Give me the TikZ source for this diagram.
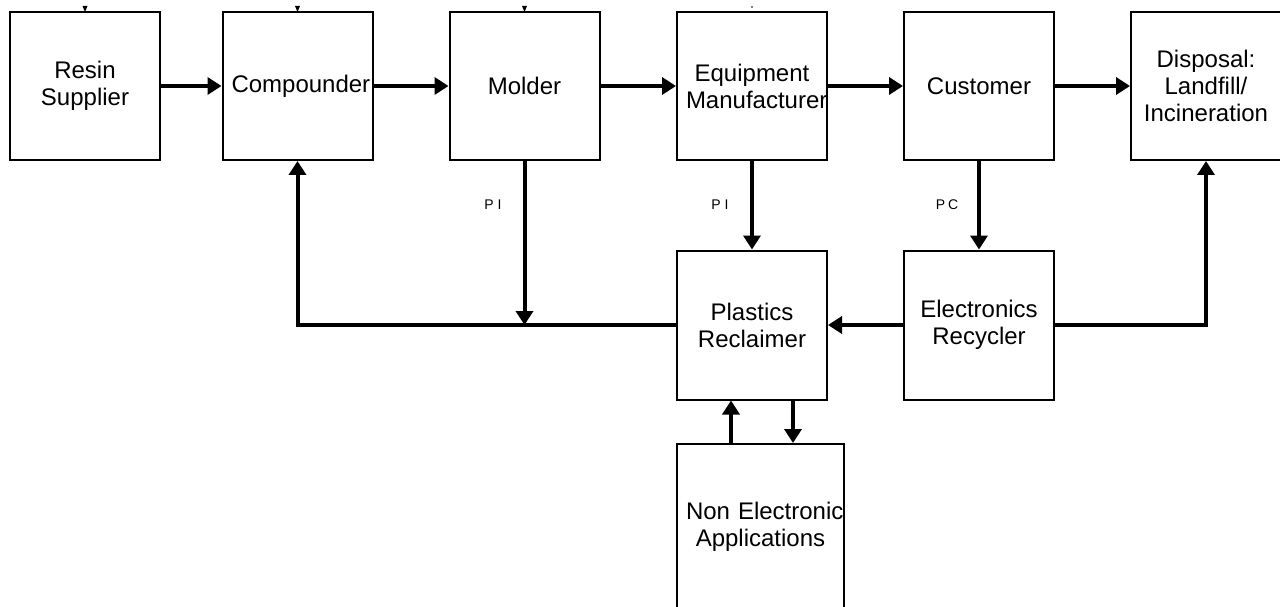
\documentclass[tikz,border=0pt]{standalone}
\usepackage{fontspec}
\setmainfont{Liberation Sans}
\usetikzlibrary{arrows.meta}
\begin{document}
\begin{tikzpicture}[x=1pt,y=-1pt,
  box/.style={draw,line width=2pt,minimum width=150pt,minimum height=148pt,
    text width=132pt,align=center,inner sep=0pt,
    font=\fontsize{24}{27}\selectfont},
  arr/.style={line width=4pt,-{Triangle[length=14pt,width=17pt]}},
  lab/.style={font=\fontsize{14}{16}\selectfont,inner sep=0pt},
  stub/.style={fill=black}]
\useasboundingbox (0,0) rectangle (1280,607);
\clip (0,0) rectangle (1280,607);
% top row
\node[box] (RS) at (85,86) {Resin\\Supplier};
\node[box] (CO) at (297.5,86) {Compounder};
\node[box] (MO) at (524.5,86) {Molder};
\node[box] (EM) at (752,86) {Equipment\\Manufacturer};
\node[box] (CU) at (979,86) {Customer};
\node[box] (DI) at (1206,86) {Disposal:\\Landfill/\\Incineration};
% second row
\node[box,minimum height=149pt] (PR) at (752,325) {Plastics\\Reclaimer};
\node[box,minimum height=149pt] (ER) at (979,325) {Electronics\\Recycler};
% bottom
\node[box,minimum width=167pt,minimum height=166pt,text width=149pt] (NE) at (760.5,527) {\mbox{Non Electronic}\\Applications};
% labels
\node[lab] (L1) at (493,205) {P\hspace{4pt}I};
\node[lab] (L2) at (720,205) {P\hspace{4pt}I};
\node[lab] (L3) at (947,205) {P\hspace{3pt}C};
% stubs of cut-off arrowheads at top
\fill[stub] (82.5,6) -- (87.5,6) -- (85,12) -- cycle;
\fill[stub] (295,6) -- (300,6) -- (297.5,12) -- cycle;
\fill[stub] (522,6) -- (527,6) -- (524.5,12) -- cycle;
\fill[gray] (751,6) rectangle (753,8);
% top row flow
\draw[arr] (RS.east) -- (CO.west);
\draw[arr] (CO.east) -- (MO.west);
\draw[arr] (MO.east) -- (EM.west);
\draw[arr] (EM.east) -- (CU.west);
\draw[arr] (CU.east) -- (DI.west);
% feedback
\draw[arr] (PR.west) -| (CO.south);
\draw[arr] (MO.south) -- (MO.south |- PR.west);
\draw[arr] (EM.south) -- (PR.north);
\draw[arr] (CU.south) -- (ER.north);
\draw[arr] (ER.west) -- (PR.east);
\draw[arr] (ER.east) -| (DI.south);
% reclaimer <-> non electronic
\draw[arr] ([xshift=-21pt]PR.south |- NE.north) -- ([xshift=-21pt]PR.south);
\draw[arr] ([xshift=41pt]PR.south) -- ([xshift=41pt]PR.south |- NE.north);
\end{tikzpicture}
\end{document}
